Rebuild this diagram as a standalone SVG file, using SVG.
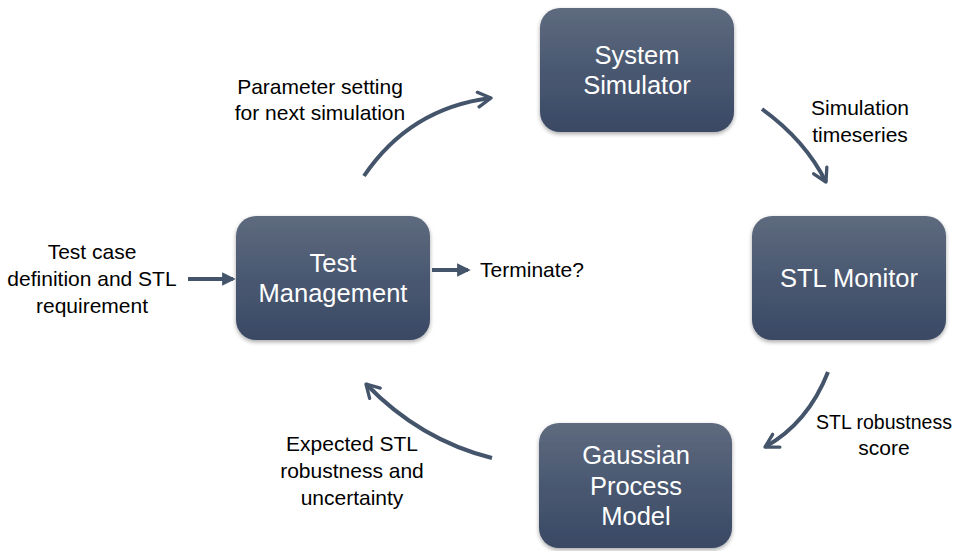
<svg xmlns="http://www.w3.org/2000/svg" width="955" height="551" viewBox="0 0 955 551">
<defs>
<linearGradient id="g" x1="0" y1="0" x2="0" y2="1">
<stop offset="0" stop-color="#5e6a7e"/>
<stop offset="0.5" stop-color="#4a5871"/>
<stop offset="1" stop-color="#3a4964"/>
</linearGradient>
<filter id="sh" x="-10%" y="-10%" width="120%" height="125%">
<feGaussianBlur in="SourceAlpha" stdDeviation="2"/>
<feOffset dx="0" dy="2" result="b"/>
<feComponentTransfer><feFuncA type="linear" slope="0.35"/></feComponentTransfer>
<feMerge><feMergeNode/><feMergeNode in="SourceGraphic"/></feMerge>
</filter>
<marker id="ah" viewBox="0 0 10 10" refX="8" refY="5" markerWidth="4.6" markerHeight="4.6" orient="auto" markerUnits="strokeWidth">
<path d="M1,1 L8,5 L1,9" fill="none" stroke="#44546a" stroke-width="1.8" stroke-linecap="round" stroke-linejoin="round"/>
</marker>
<marker id="ah2" viewBox="0 0 10 10" refX="8" refY="5" markerWidth="3.4" markerHeight="3.4" orient="auto" markerUnits="strokeWidth">
<path d="M0,0 L10,5 L0,10 z" fill="#44546a"/>
</marker>
</defs>
<style>
.box{fill:url(#g);filter:url(#sh);}
.bt{font-family:"Liberation Sans",Arial,sans-serif;font-size:25.5px;fill:#ffffff;text-anchor:middle;}
.lb{font-family:"Liberation Sans",Arial,sans-serif;font-size:21px;fill:#000000;text-anchor:middle;}
.c{fill:none;stroke:#44546a;stroke-width:4;}
</style>
<rect width="955" height="551" fill="#ffffff"/>
<g id="system-simulator">
<rect class="box" x="540" y="8" width="194" height="124" rx="20"/>
<text class="bt" x="637" y="64">System</text>
<text class="bt" x="637" y="94">Simulator</text>
</g>
<g id="stl-monitor">
<rect class="box" x="752" y="216" width="194" height="124" rx="20"/>
<text class="bt" x="849" y="287">STL Monitor</text>
</g>
<g id="gaussian-process-model">
<rect class="box" x="539" y="423" width="193" height="125" rx="20"/>
<text class="bt" x="636" y="464">Gaussian</text>
<text class="bt" x="636" y="495">Process</text>
<text class="bt" x="636" y="525">Model</text>
</g>
<g id="test-management">
<rect class="box" x="236" y="216" width="194" height="124" rx="20"/>
<text class="bt" x="333" y="272">Test</text>
<text class="bt" x="333" y="302">Management</text>
</g>
<g id="connectors">
<path class="c" marker-end="url(#ah)" d="M364,176 Q410,108 491,98"/>
<path class="c" marker-end="url(#ah)" d="M762,109 Q805,140 826,182"/>
<path class="c" marker-end="url(#ah)" d="M828,372 Q808,423 765,447"/>
<path class="c" marker-end="url(#ah)" d="M492,458 Q420,440 366,384"/>
<path class="c" marker-end="url(#ah2)" d="M188,279 L233,279"/>
<path class="c" marker-end="url(#ah2)" d="M432,270 L468,270"/>
</g>
<g id="labels">
<text class="lb" x="92" y="259">Test case</text>
<text class="lb" x="92" y="286">definition and STL</text>
<text class="lb" x="92" y="313">requirement</text>
<text class="lb" x="532" y="277">Terminate?</text>
<text class="lb" x="320" y="94">Parameter setting</text>
<text class="lb" x="320" y="120">for next simulation</text>
<text class="lb" x="860" y="115">Simulation</text>
<text class="lb" x="860" y="142">timeseries</text>
<text class="lb" x="884" y="429" style="font-size:19.5px">STL robustness</text>
<text class="lb" x="884" y="455">score</text>
<text class="lb" x="352" y="451">Expected STL</text>
<text class="lb" x="352" y="478">robustness and</text>
<text class="lb" x="352" y="505">uncertainty</text>
</g>
</svg>
